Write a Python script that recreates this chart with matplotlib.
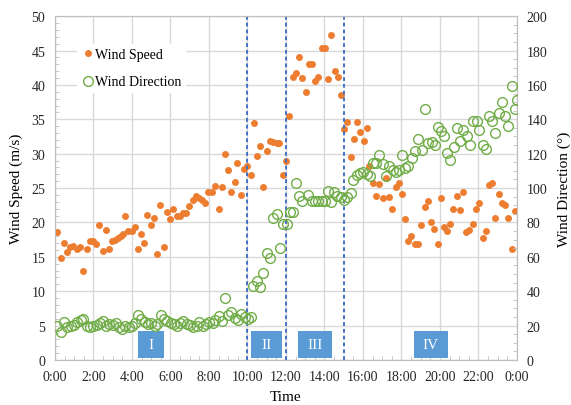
import numpy as np
import matplotlib
matplotlib.use("Agg")
import matplotlib.pyplot as plt
from matplotlib.patches import Rectangle
from matplotlib.ticker import MultipleLocator

plt.rcParams['font.family'] = ['Liberation Serif', 'DejaVu Serif']

# wind speed (m/s), hours since midnight
speed_hours = [0.12, 0.30, 0.47, 0.64, 0.78, 0.92, 1.13, 1.30, 1.44, 1.65, 1.82, 1.96,
               2.13, 2.30, 2.48, 2.65, 2.82, 2.96, 3.12, 3.29, 3.41, 3.52, 3.64, 3.81,
               3.98, 4.16, 4.29, 4.47, 4.64, 4.80, 4.97, 5.14, 5.30, 5.47, 5.65, 5.82,
               5.99, 6.15, 6.32, 6.49, 6.63, 6.81, 6.98, 7.15, 7.32, 7.46, 7.64, 7.81,
               7.97, 8.16, 8.33, 8.50, 8.68, 8.81, 8.99, 9.16, 9.33, 9.47, 9.66, 9.82,
               9.99, 10.16, 10.34, 10.51, 10.67, 10.82, 11.00, 11.17, 11.34, 11.52, 11.65, 11.83,
               12.00, 12.17, 12.35, 12.52, 12.68, 12.85, 13.02, 13.20, 13.37, 13.52, 13.68, 13.85,
               14.03, 14.20, 14.35, 14.53, 14.70, 14.84, 15.01, 15.18, 15.36, 15.53, 15.67, 15.84,
               16.05, 16.19, 16.33, 16.54, 16.68, 16.85, 17.02, 17.19, 17.37, 17.52, 17.70, 17.87,
               18.03, 18.20, 18.35, 18.51, 18.69, 18.86, 19.03, 19.21, 19.38, 19.53, 19.70, 19.88,
               20.04, 20.21, 20.38, 20.54, 20.69, 20.87, 21.04, 21.21, 21.35, 21.52, 21.70, 21.87,
               22.04, 22.22, 22.39, 22.53, 22.70, 22.88, 23.05, 23.22, 23.39, 23.55, 23.72, 23.88,
               24.0]
speed = [18.6, 14.9, 17.0, 15.7, 16.4, 16.6, 16.1, 16.4, 13.0, 16.1, 17.3, 17.3,
         16.9, 19.6, 15.9, 18.9, 16.2, 17.3, 17.4, 17.7, 18.0, 18.3, 21.0, 18.8,
         18.8, 19.3, 16.2, 18.3, 17.0, 21.1, 19.6, 20.7, 15.4, 22.6, 16.4, 21.5,
         20.5, 22.0, 20.9, 21.0, 21.4, 21.4, 22.4, 23.2, 23.8, 23.5, 23.3, 22.9,
         24.4, 24.5, 25.3, 21.9, 25.1, 30.0, 27.6, 24.4, 25.9, 28.6, 24.0, 27.8,
         28.2, 26.9, 34.4, 29.7, 31.1, 25.2, 30.4, 31.9, 31.7, 31.5, 31.6, 26.9,
         28.9, 35.5, 41.2, 41.7, 44.1, 41.0, 38.9, 43.0, 43.0, 40.6, 41.2, 45.3,
         45.3, 40.8, 47.3, 42.0, 41.2, 38.6, 33.6, 34.6, 29.5, 32.1, 34.6, 33.1,
         31.9, 33.8, 28.2, 25.8, 23.9, 25.6, 23.5, 26.4, 23.7, 21.9, 25.1, 25.7,
         24.1, 20.5, 17.3, 18.1, 16.9, 16.9, 19.6, 22.2, 23.1, 20.0, 19.0, 16.9,
         23.5, 19.4, 18.8, 19.8, 22.0, 23.9, 21.8, 24.5, 18.6, 18.9, 19.8, 22.0,
         22.8, 17.8, 18.8, 25.4, 25.8, 20.7, 24.1, 22.9, 22.5, 20.7, 16.2, 21.6,
         21.6]

# wind direction (deg)
dir_hours = [0.09, 0.30, 0.47, 0.64, 0.81, 0.99, 1.16, 1.33, 1.47, 1.65, 1.82, 1.99,
             2.16, 2.34, 2.48, 2.65, 2.82, 3.00, 3.17, 3.31, 3.48, 3.65, 3.83, 4.00,
             4.17, 4.31, 4.48, 4.66, 4.83, 5.00, 5.18, 5.31, 5.49, 5.66, 5.83, 6.01,
             6.18, 6.35, 6.49, 6.66, 6.84, 7.01, 7.18, 7.36, 7.50, 7.67, 7.84, 8.02,
             8.19, 8.33, 8.50, 8.68, 8.81, 8.99, 9.16, 9.33, 9.51, 9.68, 9.85, 10.03,
             10.16, 10.30, 10.48, 10.65, 10.82, 11.00, 11.17, 11.34, 11.52, 11.69, 11.86, 12.04,
             12.21, 12.38, 12.52, 12.68, 12.85, 13.16, 13.33, 13.51, 13.68, 13.85, 14.03, 14.16,
             14.34, 14.51, 14.66, 14.84, 15.01, 15.18, 15.38, 15.50, 15.67, 15.84, 16.02, 16.19,
             16.36, 16.54, 16.68, 16.85, 17.03, 17.20, 17.37, 17.54, 17.71, 17.85, 18.03, 18.20,
             18.35, 18.53, 18.70, 18.87, 19.05, 19.22, 19.39, 19.57, 19.74, 19.88, 20.05, 20.22,
             20.36, 20.54, 20.71, 20.87, 21.04, 21.21, 21.39, 21.56, 21.73, 21.91, 22.04, 22.22,
             22.39, 22.53, 22.70, 22.88, 23.05, 23.22, 23.39, 23.55, 23.72, 23.88, 24.0]
direction = [19.9, 16.1, 22.3, 19.4, 19.9, 20.5, 21.9, 23.4, 23.8, 19.9, 19.4, 19.9,
             20.3, 21.5, 22.8, 19.9, 20.9, 20.3, 21.5, 19.4, 18.0, 19.9, 19.4, 19.9,
             21.5, 26.2, 23.8, 22.3, 20.9, 21.5, 19.9, 20.9, 26.2, 23.8, 22.8, 21.5,
             20.9, 19.9, 21.5, 22.8, 20.9, 20.3, 19.0, 19.9, 21.9, 19.9, 20.9, 22.3,
             21.5, 23.4, 25.8, 22.8, 35.9, 26.2, 27.7, 24.2, 23.4, 26.7, 24.8, 23.8,
             25.2, 43.2, 46.1, 42.3, 50.6, 62.2, 59.5, 82.4, 84.9, 65.1, 79.1, 79.1,
             85.9, 85.9, 102.9, 95.5, 92.6, 95.9, 92.3, 92.3, 92.3, 92.3, 92.6, 98.4,
             92.0, 97.5, 95.5, 94.6, 93.0, 94.6, 97.1, 104.8, 107.6, 108.7, 109.1, 108.1,
             107.2, 114.5, 114.5, 119.2, 114.0, 107.2, 112.6, 110.6, 109.5, 110.6, 119.2, 111.5,
             113.0, 117.3, 121.7, 128.5, 122.1, 145.9, 126.2, 126.6, 125.0, 135.6, 133.3, 130.4,
             120.3, 116.3, 124.0, 134.7, 127.5, 133.7, 130.4, 125.2, 139.1, 139.1, 133.7, 125.2,
             122.7, 141.7, 139.1, 131.8, 143.6, 149.8, 142.0, 135.9, 159.5, 145.9, 151.3]

# phase boundaries (h) and phase labels
boundaries = [10, 12, 15]
phase_names = ['I', 'II', 'III', 'IV']
phase_boxes = [(4.3, 5.65), (10.2, 11.8), (12.6, 14.4), (18.65, 20.4)]

xticks = list(range(0, 25, 2))
xticklabels = [f"{h % 24}:00" for h in xticks]

fig = plt.figure(figsize=(5.71, 4.06), dpi=100)
ax = fig.add_axes([0.0963, 0.1108, 0.809, 0.847])
ax2 = ax.twinx()

orange = '#ED7D31'
green = '#70AD47'
grey = '#BFBFBF'

ax.plot(speed_hours, speed, 'o', color=orange, ms=5, mec='none', zorder=3)
ax2.plot(dir_hours, direction, 'o', mfc='none', mec=green, ms=7, mew=1.0, zorder=3)

for b in boundaries:
    ax.axvline(b, color='#4472C4', ls=(0, (2, 1.5)), lw=1.4, zorder=4)

for name, (x0, x1) in zip(phase_names, phase_boxes):
    ax.add_patch(Rectangle((x0, 0.3), x1 - x0, 3.9, facecolor='#5B9BD5',
                           edgecolor='none', zorder=5))
    ax.text((x0 + x1) / 2, 2.25, name, color='white', ha='center', va='center',
            fontsize=11, zorder=6)

ax.set_xlim(0, 24)
ax.set_ylim(0, 50)
ax2.set_ylim(0, 200)
ax.set_xticks(xticks)
ax.set_xticklabels(xticklabels)
ax.set_yticks(range(0, 51, 5))
ax2.set_yticks(range(0, 201, 20))
ax.xaxis.set_minor_locator(MultipleLocator(0.5))
ax.yaxis.set_minor_locator(MultipleLocator(1))
ax2.yaxis.set_minor_locator(MultipleLocator(5))

ax.grid(True, which='major', color='#D9D9D9', lw=1.0, zorder=0)
ax.set_axisbelow(True)

for a in (ax, ax2):
    for s in a.spines.values():
        s.set_color(grey)
    a.tick_params(which='major', length=0, labelsize=10, colors='#262626', pad=7)
    a.tick_params(which='minor', length=3, direction='in', color=grey)

ax.set_xlabel('Time', fontsize=11, labelpad=5)
ax.set_ylabel('Wind Speed (m/s)', fontsize=11, labelpad=6)
ax2.set_ylabel('Wind Direction (°)', fontsize=11, labelpad=7)

h1, = ax.plot([], [], 'o', color=orange, ms=5, mec='none')
h2, = ax.plot([], [], 'o', mfc='none', mec=green, ms=7, mew=1.0)
leg = ax2.legend([h1, h2], ['Wind Speed', 'Wind Direction'], loc='upper left',
                 bbox_to_anchor=(0.032, 0.94), frameon=True, fontsize=10,
                 handletextpad=0.05, labelspacing=1.05, borderpad=0.3, handlelength=1.0)
leg.get_frame().set_edgecolor('none')
leg.get_frame().set_facecolor('white')
leg.get_frame().set_alpha(1)

fig.savefig('out.png', dpi=100)
